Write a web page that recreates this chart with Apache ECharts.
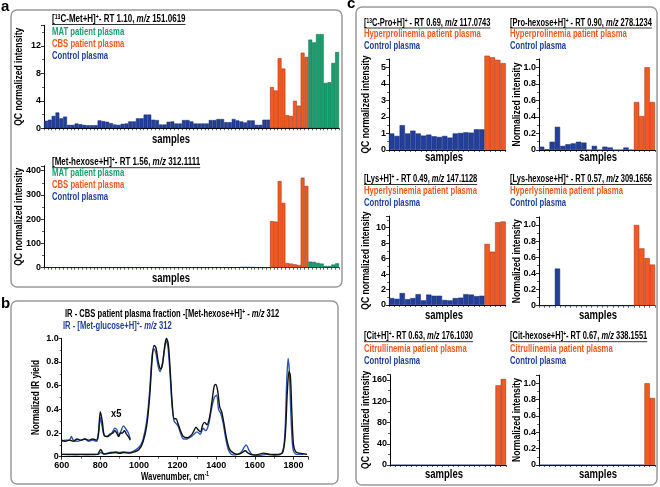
<!DOCTYPE html>
<html><head><meta charset="utf-8">
<script src="https://cdn.jsdelivr.net/npm/echarts@6/dist/echarts.min.js"></script>
<style>html,body{margin:0;padding:0;background:#fff}#c{width:660px;height:487px}</style>
</head><body><div id="c"></div>
<script>
// ---------------- DATA ----------------
// Panel a, top: [13C-Met+H]+
const a1Control = [1.1,1.25,1.8,2.3,1.45,1.7,0.5,0.5,0.7,0.6,
  0.5,0.45,0.45,0.45,1.15,1.05,0.95,0.75,0.55,0.5,
  0.65,0.7,1.0,1.0,1.45,1.45,2.0,2.0,1.25,1.2,
  0.55,0.55,0.95,1.0,0.7,0.7,1.2,1.2,1.0,0.7,
  0.7,0.7,0.7,1.2,1.2,1.35,1.35,0.9,0.9,1.35,
  1.15,1.0,0.85,1.15,1.15,0.5,0.5,1.25,1.25];
const a1CBS = [6.0,5.5,10.2,8.7,1.9,1.8,4.0,3.3,11.0,10.4];
const a1MAT = [12.9,12.5,13.7,13.7,6.6,6.7,9.5,11.1];
// Panel a, bottom: [Met-hexose+H]+
const a2Control = [1.5,1.8,1.6,1.2,1.0,1.0,0.8,0.8,0.7,0.8,
  0.9,0.8,0.7,0.7,0.8,0.9,0.8,0.8,0.7,0.7,
  0.8,0.8,0.9,0.9,1.0,1.0,1.2,1.2,1.0,1.0,
  0.8,0.8,0.9,0.9,0.8,0.8,1.0,1.0,0.9,0.8,
  0.8,0.8,0.9,1.0,1.0,1.1,1.1,0.9,0.9,1.1,
  1.2,3.2,3.5,3.4,3.0,0.8,0.8,1.0,1.0];
const a2CBS = [192,190,357,267,19,17,14,11,371,337];
const a2MAT = [25,24,20,17,7,7,13,18];
// Panel b: IR spectra [wavenumber, yield]
const irCbs = [[600,0.02],[650,0.018],[700,0.02],[750,0.018],[785,0.02],[795,0.045],[802,0.062],[810,0.04],[820,0.022],[850,0.03],[880,0.035],[900,0.028],[920,0.035],[950,0.03],[975,0.04],[1000,0.06],[1020,0.12],[1040,0.26],[1055,0.5],[1068,0.82],[1078,0.94],[1088,0.92],[1100,0.8],[1112,0.74],[1122,0.78],[1132,0.92],[1142,1.0],[1152,0.95],[1162,0.72],[1172,0.45],[1182,0.32],[1192,0.32],[1202,0.28],[1215,0.22],[1230,0.17],[1250,0.16],[1270,0.18],[1285,0.22],[1295,0.25],[1305,0.23],[1318,0.21],[1330,0.27],[1340,0.29],[1352,0.27],[1365,0.33],[1378,0.47],[1390,0.6],[1398,0.61],[1408,0.55],[1418,0.42],[1428,0.38],[1440,0.28],[1455,0.14],[1470,0.06],[1490,0.03],[1510,0.02],[1530,0.03],[1550,0.05],[1565,0.03],[1590,0.015],[1620,0.02],[1645,0.03],[1680,0.02],[1720,0.02],[1745,0.04],[1758,0.2],[1768,0.55],[1777,0.72],[1784,0.68],[1792,0.35],[1800,0.1],[1812,0.04],[1830,0.03],[1850,0.025],[1870,0.02]];
const irGlc = [[600,0.02],[650,0.02],[700,0.018],[750,0.02],[790,0.02],[802,0.035],[815,0.025],[850,0.035],[880,0.04],[900,0.035],[920,0.04],[950,0.035],[975,0.05],[1000,0.08],[1020,0.14],[1040,0.3],[1055,0.55],[1068,0.85],[1077,0.91],[1088,0.87],[1100,0.76],[1110,0.72],[1120,0.78],[1132,0.9],[1140,0.98],[1150,0.93],[1160,0.72],[1172,0.42],[1182,0.3],[1192,0.28],[1202,0.26],[1215,0.2],[1230,0.15],[1250,0.15],[1270,0.17],[1285,0.19],[1300,0.21],[1318,0.19],[1332,0.24],[1345,0.22],[1360,0.27],[1375,0.4],[1390,0.5],[1402,0.52],[1412,0.4],[1422,0.37],[1435,0.29],[1452,0.13],[1468,0.04],[1490,0.015],[1510,0.02],[1530,0.04],[1545,0.08],[1555,0.1],[1568,0.06],[1585,0.02],[1620,0.01],[1660,0.02],[1700,0.012],[1740,0.03],[1755,0.18],[1764,0.6],[1772,0.83],[1779,0.7],[1788,0.3],[1798,0.06],[1815,0.02],[1850,0.02]];
const irCbsX5 = [[600,0.14],[620,0.13],[640,0.14],[660,0.13],[680,0.15],[700,0.14],[720,0.15],[740,0.14],[760,0.15],[780,0.14],[790,0.2],[800,0.38],[810,0.3],[820,0.18],[835,0.17],[850,0.19],[865,0.2],[875,0.22],[885,0.2],[895,0.17],[905,0.2],[915,0.2],[925,0.22],[935,0.19],[945,0.17],[955,0.14]];
const irGlcX5 = [[600,0.13],[620,0.14],[640,0.14],[650,0.17],[660,0.14],[680,0.13],[700,0.14],[720,0.15],[740,0.13],[760,0.14],[780,0.13],[790,0.18],[800,0.33],[810,0.25],[820,0.18],[840,0.17],[860,0.2],[875,0.24],[885,0.23],[895,0.18],[905,0.21],[920,0.26],[930,0.24],[945,0.2],[955,0.15]];
// Panel c
const c1Control = [1.0,0.85,1.5,1.0,1.17,1.0,0.87,0.93,0.83,0.79,0.85,0.75,1.0,1.03,1.07,1.05,1.25,1.25];
const c1Patient = [5.7,5.6,5.45,5.25];
const c2Control = [0.04,0.01,0.1,0.28,0.05,0.07,0.08,0.1,0.09,0,0.05,0,0.04,0.03,0,0,0.03,0];
const c2Patient = [0.58,0.41,1.0,0.58];
const c3Control = [0.9,0.8,1.55,0.75,0.9,1.4,0.6,1.35,1.2,1.2,0.65,0.6,0.9,0.95,1.4,1.35,1.15,1.2];
const c3Patient = [7.9,6.9,10.7,10.8];
const c4Control = [0,0,0,0.46,0,0,0,0,0,0,0,0,0,0,0,0,0,0];
const c4Patient = [1.0,0.71,0.59,0.51];
const c5Control = [0,0,0,0,0,0,0,0,0,0,0,0,0,0,0,0,0,0,0,0];
const c5Patient = [150,162];
const c6Control = [0,0,0,0,0,0,0,0,0,0,0,0,0,0,0,0,0,0,0,0];
const c6Patient = [1.0,0.82];

// ---------------- STYLE ----------------
const F = '"Liberation Sans", Arial, sans-serif';
const BLUE = '#22409a', BLUE_B = '#16296a';
const ORANGE = '#f15a24', ORANGE_B = '#9a2f0e';
const GREEN = '#17a06e', GREEN_B = '#0c6646';
const BLUE_T = '#23419c', ORANGE_T = '#f15a22', GREEN_T = '#16a06e';
const TS = 10;       // title / legend font size
const SX_T = 0.8;    // condensing of underlined titles (panel a)
const SX_TC = 0.75;  // condensing of underlined titles (panel c)
const SX_L = 0.77;   // condensing of legend lines
const TICK_FS = 9;

const grids = [], xAxes = [], yAxes = [], series = [], graphics = [];

function fmtFixed(d) { return v => (v === 0 ? '0' : v.toFixed(d)); }

function yAxisCfg(gi, max, interval, fmt) {
  return {
    type: 'value', gridIndex: gi, min: 0, max: max, interval: interval,
    axisLine: { show: true, lineStyle: { color: '#000', width: 1 } },
    axisTick: { show: true, length: 3, lineStyle: { color: '#000', width: 0.8 } },
    minorTick: { show: true, splitNumber: 2, length: 2, lineStyle: { color: '#000', width: 0.6 } },
    splitLine: { show: false },
    axisLabel: {
      fontFamily: F, fontWeight: 'bold', fontSize: TICK_FS, color: '#000', margin: 3,
      formatter: v => { const r = v / interval; return Math.abs(r - Math.round(r)) < 1e-6 ? fmt(v) : ''; }
    }
  };
}

function addBarPanel(p) {
  const gi = grids.length;
  const n = p.groups.reduce((s, g) => s + g.values.length, 0);
  grids.push({ left: p.left, top: p.top, width: p.width, height: p.height, containLabel: false, outerBoundsMode: 'none' });
  xAxes.push({
    type: 'category', gridIndex: gi, data: Array.from({ length: n }, (_, i) => String(i + 1)), boundaryGap: true,
    axisLine: { show: true, lineStyle: { color: '#000', width: 1 } },
    axisTick: { show: true, interval: 0, length: 2, lineStyle: { color: '#000', width: 0.6 } },
    axisLabel: { show: false }, splitLine: { show: false }
  });
  yAxes.push(yAxisCfg(gi, p.ymax, p.yint, p.yfmt));
  let off = 0;
  p.groups.forEach(g => {
    const d = new Array(n).fill(null);
    g.values.forEach((v, i) => { d[off + i] = v; });
    off += g.values.length;
    series.push({
      type: 'bar', xAxisIndex: gi, yAxisIndex: gi, data: d, barGap: '-100%', barCategoryGap: '0%',
      itemStyle: { color: g.color, borderColor: g.border, borderWidth: 0.5 }, clip: false, silent: true
    });
  });
  addName(p.sx, p.sy, 'samples', 13, 0, 0.73);
  addName(p.nx, p.top + p.height / 2, p.yname, 11, Math.PI / 2, 0.78);
}

// measure for underline
const mctx = document.createElement('canvas').getContext('2d');
function segWidth(text, style, size) {
  mctx.font = (style || 'normal') + ' bold ' + size + 'px ' + F;
  return mctx.measureText(text).width;
}
function richWidth(str, size) {
  let w = 0; const re = /\{(\w+)\|([^}]*)\}/g; let last = 0, m;
  while ((m = re.exec(str))) {
    if (m.index > last) w += segWidth(str.slice(last, m.index), 'normal', size);
    if (m[1] === 'sup') w += segWidth(m[2], 'normal', 6.5);
    else w += segWidth(m[2], 'italic', size);
    last = re.lastIndex;
  }
  if (last < str.length) w += segWidth(str.slice(last), 'normal', size);
  return w;
}
function richStyles(color, size) {
  return {
    sup: { fontFamily: F, fontWeight: 'bold', fontSize: 6.5, verticalAlign: 'top', lineHeight: 11, fill: color },
    i: { fontFamily: F, fontWeight: 'bold', fontStyle: 'italic', fontSize: size, lineHeight: 11, fill: color }
  };
}
function addText(x, y, str, color, underline, size, sx) {
  size = size || TS;
  sx = sx || (underline ? SX_T : SX_L);
  graphics.push({
    type: 'text', x: x, y: y, scaleX: sx, silent: true, z: 10,
    style: { text: str, fill: color, fontFamily: F, fontWeight: 'bold', fontSize: size, lineHeight: 11,
      verticalAlign: 'middle', align: 'left', rich: richStyles(color, size) }
  });
  if (underline) {
    const w = richWidth(str, size) * sx;
    graphics.push({ type: 'line', silent: true, z: 10, shape: { x1: x, y1: y + 5, x2: x + w, y2: y + 5 }, style: { stroke: color, lineWidth: 0.8 } });
  }
}
function addName(x, y, str, size, rot, sx) {
  graphics.push({
    type: 'text', x: x, y: y, rotation: rot, scaleX: sx, silent: true, z: 10,
    style: { text: str, fill: '#000', fontFamily: F, fontWeight: 'bold', fontSize: size, lineHeight: 12,
      align: 'center', verticalAlign: 'middle', rich: richStyles('#000', size) }
  });
}
function addBox(x, y, w, h) {
  graphics.push({ type: 'rect', silent: true, z: 0, shape: { x: x, y: y, width: w, height: h, r: 6 },
    style: { fill: 'none', stroke: '#9a9a9a', lineWidth: 1.5 } });
}
function addLetter(x, y, s) {
  graphics.push({ type: 'text', x: x, y: y, silent: true, style: { text: s, fontFamily: F, fontWeight: 'bold', fontSize: 15, fill: '#000', verticalAlign: 'top' } });
}

// ---------------- PANEL a ----------------
addBarPanel({ left: 44, top: 25.2, width: 295, height: 103.1, ymax: 15, yint: 4, yfmt: v => String(v),
  yname: 'QC normalized intensity', nx: 18.5, sx: 171, sy: 139.5,
  groups: [{ values: a1Control, color: BLUE, border: BLUE_B }, { values: a1CBS, color: ORANGE, border: ORANGE_B }, { values: a1MAT, color: GREEN, border: GREEN_B }] });
addBarPanel({ left: 44, top: 165.8, width: 295, height: 101.9, ymax: 420, yint: 100, yfmt: v => String(v),
  yname: 'QC normalized intensity', nx: 18.5, sx: 171, sy: 278,
  groups: [{ values: a2Control, color: BLUE, border: BLUE_B }, { values: a2CBS, color: ORANGE, border: ORANGE_B }, { values: a2MAT, color: GREEN, border: GREEN_B }] });

addText(52, 19.5, '[{sup|13}C-Met+H]{sup|+}- RT 1.10, {i|m/z} 151.0619', '#000', true);
addText(52, 32.7, 'MAT patient plasma', GREEN_T);
addText(52, 44.3, 'CBS patient plasma', ORANGE_T);
addText(52, 56, 'Control plasma', BLUE_T);
addText(52, 162.7, '[Met-hexose+H]{sup|+}- RT 1.56, {i|m/z} 312.1111', '#000', true);
addText(52, 173.3, 'MAT patient plasma', GREEN_T);
addText(52, 185, 'CBS patient plasma', ORANGE_T);
addText(52, 197, 'Control plasma', BLUE_T);

// ---------------- PANEL b ----------------
(function () {
  const gi = grids.length;
  grids.push({ left: 61.7, top: 338.3, width: 246.3, height: 118.4, containLabel: false, outerBoundsMode: 'none' });
  xAxes.push({
    type: 'value', gridIndex: gi, min: 600, max: 1875, interval: 200,
    axisLine: { show: true, lineStyle: { color: '#000', width: 1 } },
    axisTick: { show: true, length: 3, lineStyle: { color: '#000', width: 0.8 } },
    minorTick: { show: true, splitNumber: 2, length: 2, lineStyle: { color: '#000', width: 0.6 } },
    splitLine: { show: false },
    axisLabel: { fontFamily: F, fontWeight: 'bold', fontSize: TICK_FS, color: '#000', margin: 4,
      formatter: v => (v % 200 === 0 ? String(v) : '') }
  });
  yAxes.push(yAxisCfg(gi, 1.0, 0.2, fmtFixed(1)));
  const mk = (data, color) => ({ type: 'line', xAxisIndex: gi, yAxisIndex: gi, data: data, showSymbol: false, smooth: 0.3,
    lineStyle: { color: color, width: 1.4 }, silent: true });
  series.push(mk(irGlcX5, '#2d55b0'), mk(irCbsX5, '#111'), mk(irGlc, '#2d55b0'), mk(irCbs, '#111'));
  addName(36, 397.5, 'Normalized IR yield', 11, Math.PI / 2, 0.74);
  addName(175, 477, 'Wavenumber, cm{sup|-1}', 10.5, 0, 0.74);
})();
addText(65, 314, 'IR - CBS patient plasma fraction -[Met-hexose+H]{sup|+} - {i|m/z} 312', '#000', false, TS, 0.76);
addText(63, 326, 'IR - [Met-glucose+H]{sup|+}- {i|m/z} 312', BLUE_T, false, TS, 0.76);
addText(111, 414, 'x5', '#000', false, 11, 0.85);

// ---------------- PANEL c ----------------
const CW = 116.7;
addBarPanel({ left: 389, top: 59, width: CW, height: 91, ymax: 5.5, yint: 1, yfmt: v => String(v),
  yname: 'QC normalized intensity', nx: 366, sx: 444, sy: 157,
  groups: [{ values: c1Control, color: BLUE, border: BLUE_B }, { values: c1Patient, color: ORANGE, border: ORANGE_B }] });
addBarPanel({ left: 539, top: 59, width: 116, height: 91, ymax: 1.1, yint: 0.2, yfmt: fmtFixed(1),
  yname: 'Normalized intensity', nx: 517, sx: 598, sy: 157,
  groups: [{ values: c2Control, color: BLUE, border: BLUE_B }, { values: c2Patient, color: ORANGE, border: ORANGE_B }] });
addBarPanel({ left: 389, top: 216.1, width: CW, height: 88.9, ymax: 11.5, yint: 2, yfmt: v => String(v),
  yname: 'QC normalized intensity', nx: 366, sx: 444, sy: 315,
  groups: [{ values: c3Control, color: BLUE, border: BLUE_B }, { values: c3Patient, color: ORANGE, border: ORANGE_B }] });
addBarPanel({ left: 539, top: 216.9, width: 116, height: 88.8, ymax: 1.1, yint: 0.2, yfmt: fmtFixed(1),
  yname: 'Normalized intensity', nx: 517, sx: 598, sy: 315,
  groups: [{ values: c4Control, color: BLUE, border: BLUE_B }, { values: c4Patient, color: ORANGE, border: ORANGE_B }] });
addBarPanel({ left: 390, top: 374.7, width: 116, height: 90.3, ymax: 170, yint: 40, yfmt: v => String(v),
  yname: 'QC normalized intensity', nx: 366, sx: 444, sy: 474,
  groups: [{ values: c5Control, color: BLUE, border: BLUE_B }, { values: c5Patient, color: ORANGE, border: ORANGE_B }] });
addBarPanel({ left: 539, top: 375.1, width: 116, height: 89.9, ymax: 1.1, yint: 0.2, yfmt: fmtFixed(1),
  yname: 'Normalized intensity', nx: 517, sx: 598, sy: 474,
  groups: [{ values: c6Control, color: BLUE, border: BLUE_B }, { values: c6Patient, color: ORANGE, border: ORANGE_B }] });

addText(364, 23, '[{sup|13}C-Pro+H]{sup|+} - RT 0.69, {i|m/z} 117.0743', '#000', true, TS, SX_TC);
addText(364, 34.3, 'Hyperprolinemia patient plasma', ORANGE_T);
addText(364, 46.7, 'Control plasma', BLUE_T);
addText(510, 23, '[Pro-hexose+H]{sup|+} - RT 0.90, {i|m/z} 278.1234', '#000', true, TS, SX_TC);
addText(510, 34.3, 'Hyperprolinemia patient plasma', ORANGE_T);
addText(510, 46.7, 'Control plasma', BLUE_T);
addText(364, 179.5, '[Lys+H]{sup|+} - RT 0.49, {i|m/z} 147.1128', '#000', true, TS, SX_TC);
addText(364, 191.7, 'Hyperlysinemia patient plasma', ORANGE_T);
addText(364, 203.3, 'Control plasma', BLUE_T);
addText(510, 179.5, '[Lys-hexose+H]{sup|+} - RT 0.57, {i|m/z} 309.1656', '#000', true, TS, SX_TC);
addText(510, 191.7, 'Hyperlysinemia patient plasma', ORANGE_T);
addText(510, 203.3, 'Control plasma', BLUE_T);
addText(364, 336.7, '[Cit+H]{sup|+}- RT 0.63, {i|m/z} 176.1030', '#000', true, TS, SX_TC);
addText(364, 349.3, 'Citrullinemia patient plasma', ORANGE_T);
addText(364, 361.7, 'Control plasma', BLUE_T);
addText(510, 336.7, '[Cit-hexose+H]{sup|+}- RT 0.67, {i|m/z} 338.1551', '#000', true, TS, SX_TC);
addText(510, 349.3, 'Citrullinemia patient plasma', ORANGE_T);
addText(510, 361.7, 'Control plasma', BLUE_T);

// boxes and panel letters
addBox(11, 10, 331, 277);
addBox(11, 301, 327, 183);
addBox(356, 7, 301, 478);
addLetter(1, -1, 'a');
addLetter(1, 296, 'b');
addLetter(347, -4, 'c');

const chart = echarts.init(document.getElementById('c'), null, { renderer: 'canvas', width: 660, height: 487 });
chart.setOption({
  animation: false,
  backgroundColor: '#fff',
  grid: grids, xAxis: xAxes, yAxis: yAxes, series: series, graphic: graphics
});
</script></body></html>
